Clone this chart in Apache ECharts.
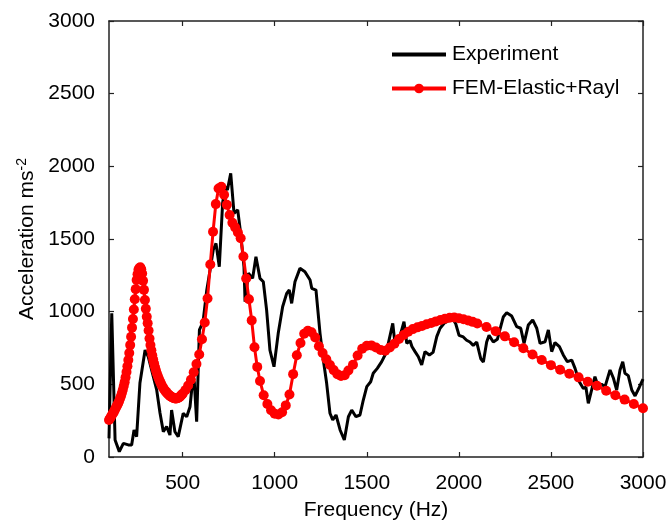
<!DOCTYPE html>
<html>
<head>
<meta charset="utf-8">
<script src="https://cdn.jsdelivr.net/npm/echarts@6/dist/echarts.min.js"></script>
<style>
html,body{margin:0;padding:0;background:#fff;}
#chart{width:670px;height:524px;}
</style>
</head>
<body>
<div id="chart"></div>
<script>
// ---- Data ----
const xTickValues = [500, 1000, 1500, 2000, 2500, 3000];

const expFreq = [100,115,133,156,178,205,223,236,250,268,296,313,359,377,395,413,431,440,458,476,503,522,540,549,563,576,591,603,612,631,649,666,681,699,717,730,743,761,779,799,815,833,839,857,880,898,920,938,956,974,996,1019,1043,1065,1079,1092,1110,1137,1164,1192,1201,1224,1246,1264,1282,1300,1315,1333,1355,1378,1400,1418,1441,1463,1481,1500,1521,1535,1557,1581,1599,1617,1641,1653,1670,1680,1702,1717,1735,1745,1762,1780,1798,1816,1840,1860,1880,1898,1920,1945,1965,1983,2001,2024,2042,2060,2078,2097,2119,2133,2151,2164,2187,2209,2241,2260,2287,2314,2336,2354,2377,2401,2423,2441,2468,2486,2504,2522,2546,2567,2589,2613,2631,2654,2676,2690,2703,2721,2739,2757,2775,2794,2821,2840,2857,2875,2890,2902,2920,2939,2957,2980,3000];
const expAcc  = [128,989,117,37,94,83,83,186,140,509,736,690,461,303,174,209,151,323,174,140,300,277,346,461,520,243,874,908,943,1149,1287,1424,1470,1309,1746,1860,1837,1952,1677,1700,1539,1309,1069,1264,1229,1378,1229,1206,1011,736,621,851,1034,1126,1149,1057,1206,1298,1275,1218,1161,1149,851,667,507,301,255,289,186,117,277,323,277,289,392,484,518,576,610,656,702,782,920,782,800,830,931,782,800,760,725,690,633,725,702,720,828,886,920,940,955,917,837,826,803,791,768,791,676,654,791,837,791,810,963,993,970,897,886,782,908,943,886,782,793,874,725,787,759,702,656,667,610,518,472,480,369,461,553,484,500,484,599,540,461,599,656,576,560,461,420,480,535];

const femFreq = [100,105,110,115,120,125,130,135,140,145,150,155,160,165,170,175,180,185,190,195,200,205,210,215,220,225,230,235,240,245,250,255,260,265,270,275,280,285,290,295,300,305,310,315,320,325,330,335,340,345,350,355,360,365,370,375,380,385,390,395,400,405,410,415,420,425,430,435,440,445,450,455,460,465,470,475,480,485,490,495,500,
515,530,545,560,575,590,605,620,635,650,665,680,695,710,725,740,755,770,785,800,815,830,845,860,875,890,905,
920,940,960,980,1000,1020,1040,1060,1080,1100,1120,1140,1160,1180,1200,1220,1240,1260,1280,1300,1320,1340,1360,1380,1400,
1425,1450,1475,1500,1525,1550,1575,1600,1625,1650,1675,1700,1725,1750,1775,1800,1825,1850,1875,1900,1925,1950,1975,2000,2025,2050,2075,2100,
2150,2200,2250,2300,2350,2400,2450,2500,2550,2600,2650,2700,2750,2800,2850,2900,2950,3000];
const femAcc = [255,265,275,287,297,307,320,333,345,357,370,385,402,420,440,462,488,515,548,585,625,667,715,770,828,890,950,1015,1085,1155,1218,1258,1288,1300,1305,1292,1262,1212,1150,1080,1020,965,920,870,815,770,735,700,670,643,618,595,574,557,540,525,510,497,485,475,465,456,448,440,434,428,422,417,413,409,406,404,403,403,404,406,410,415,421,428,436,
460,492,532,583,640,705,810,925,1090,1325,1550,1740,1848,1860,1805,1735,1665,1612,1580,1545,1505,1380,1228,1085,940,755,620,
523,425,365,322,298,292,308,355,430,570,700,785,848,868,858,822,762,715,673,633,598,570,558,562,595,
635,698,745,765,768,753,737,731,753,780,812,840,862,880,892,902,913,922,933,943,952,958,960,955,948,940,930,918,
895,866,830,790,748,705,668,632,600,573,548,518,490,456,425,395,365,335];

const zip = (a, b) => a.map((v, i) => [v, b[i]]);

const FONT = 'Liberation Sans';
const FS = 21;
const axisColor = '#222';
const plain = v => String(v);

const chart = echarts.init(document.getElementById('chart'), null, {renderer: 'canvas'});
const option = {
  backgroundColor: '#fff',
  animation: false,
  textStyle: {fontFamily: FONT},
  grid: {left: 109, right: 27, top: 21, bottom: 67, containLabel: false, outerBoundsMode: 'none'},
  legend: {
    orient: 'vertical',
    left: 385, top: 39,
    itemWidth: 54, itemHeight: 12, itemGap: 13,
    lineStyle: {width: 4},
    textStyle: {fontFamily: FONT, fontSize: FS, color: '#000', padding: [0,0,0,1]},
    data: [
      {name: 'Experiment', itemStyle: {opacity: 0}},
      {name: 'FEM-Elastic+Rayl'}
    ]
  },
  xAxis: [{
    type: 'value', min: 100, max: 3000,
    name: 'Frequency (Hz)', nameLocation: 'middle', nameGap: 43,
    nameTextStyle: {fontFamily: FONT, fontSize: FS, color: '#000'},
    axisLine: {show: true, onZero: false, lineStyle: {color: axisColor, width: 1.5}},
    axisTick: {show: true, inside: true, length: 5, customValues: xTickValues, lineStyle: {color: axisColor, width: 1.2}},
    axisLabel: {customValues: xTickValues, formatter: plain, fontFamily: FONT, fontSize: FS, color: '#000', margin: 16},
    splitLine: {show: false}
  }, {
    type: 'value', min: 100, max: 3000, position: 'top',
    axisLine: {show: true, onZero: false, lineStyle: {color: axisColor, width: 1.5}},
    axisTick: {show: true, inside: true, length: 5, customValues: xTickValues, lineStyle: {color: axisColor, width: 1.2}},
    axisLabel: {show: false},
    splitLine: {show: false}
  }],
  yAxis: [{
    type: 'value', min: 0, max: 3000, interval: 500,
    name: 'Acceleration ms{sup|-2}', nameLocation: 'middle', nameGap: 69, nameRotate: 90,
    nameTextStyle: {fontFamily: FONT, fontSize: FS, color: '#000',
      rich: {sup: {fontFamily: FONT, fontSize: 14, color: '#000', verticalAlign: 'top', padding: [0,0,10,0]}}},
    axisLine: {show: true, onZero: false, lineStyle: {color: axisColor, width: 1.5}},
    axisTick: {show: true, inside: true, length: 5, lineStyle: {color: axisColor, width: 1.2}},
    axisLabel: {formatter: plain, fontFamily: FONT, fontSize: FS, color: '#000', margin: 14},
    splitLine: {show: false}
  }, {
    type: 'value', min: 0, max: 3000, interval: 500, position: 'right',
    axisLine: {show: true, onZero: false, lineStyle: {color: axisColor, width: 1.5}},
    axisTick: {show: true, inside: true, length: 5, lineStyle: {color: axisColor, width: 1.2}},
    axisLabel: {show: false},
    splitLine: {show: false}
  }],
  series: [{
    name: 'Experiment', type: 'line',
    data: zip(expFreq, expAcc),
    showSymbol: false, symbol: 'none',
    lineStyle: {color: '#000', width: 3},
    itemStyle: {color: '#000'},
    z: 2
  }, {
    name: 'FEM-Elastic+Rayl', type: 'line',
    data: zip(femFreq, femAcc),
    symbol: 'circle', symbolSize: 10, showSymbol: true, showAllSymbol: true,
    lineStyle: {color: '#ff0000', width: 3},
    itemStyle: {color: '#ff0000'},
    z: 3
  }]
};
chart.setOption(option);
</script>
</body>
</html>
